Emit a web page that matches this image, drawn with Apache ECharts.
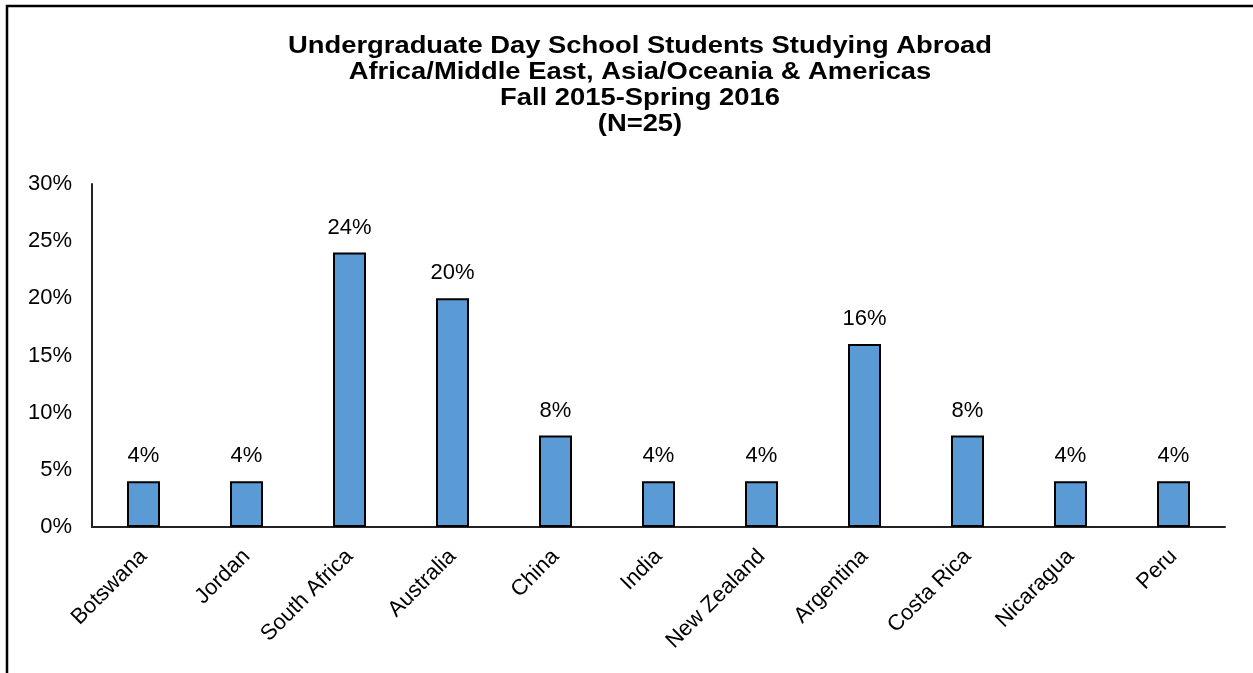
<!DOCTYPE html>
<html><head><meta charset="utf-8">
<script src="https://cdn.jsdelivr.net/npm/echarts@6/dist/echarts.min.js"></script>
<style>html,body{margin:0;padding:0;background:#fff}#c{width:1253px;height:673px}</style>
</head><body><div id="c"></div>
<script>
const categories = ['Botswana','Jordan','South Africa','Australia','China','India','New Zealand','Argentina','Costa Rica','Nicaragua','Peru'];
const values = [4,4,24,20,8,4,4,16,8,4,4];
const yTicks = {min:0, max:30, interval:5};
const titleLines = ['Undergraduate Day School Students Studying Abroad','Africa/Middle East, Asia/Oceania & Americas','Fall 2015-Spring 2016','(N=25)'];

const FONT = 'Liberation Sans, Arial, sans-serif';
const chart = echarts.init(document.getElementById('c'), null, {renderer:'canvas'});
chart.setOption({
  animation:false,
  backgroundColor:'#fff',
  graphic:[
    {type:'rect', shape:{x:7,y:6,width:1400,height:800}, style:{fill:'none', stroke:'#000', lineWidth:2.5}, silent:true, z:100},
    {type:'text', x:640, y:34, originX:0, originY:0, scaleX:1.19, silent:true,
     style:{text:titleLines.join('\n'), font:'bold 23px ' + FONT, fill:'#000', align:'center', verticalAlign:'top', lineHeight:26}}
  ],
  grid:{left:92, right:28, top:184, bottom:146},
  xAxis:{
    type:'category', data:categories,
    axisLine:{lineStyle:{color:'#222', width:2}},
    axisTick:{show:false},
    axisLabel:{rotate:45, color:'#000', fontFamily:FONT, fontSize:22, margin:26, interval:0}
  },
  yAxis:{
    type:'value', min:yTicks.min, max:yTicks.max, interval:yTicks.interval,
    axisLine:{show:true, lineStyle:{color:'#222', width:2}},
    axisTick:{show:false},
    splitLine:{show:false},
    axisLabel:{color:'#000', fontFamily:FONT, fontSize:22, margin:20, formatter:v=>v+'%'}
  },
  series:[{
    type:'bar', data:values, barWidth:33,
    itemStyle:{color:'#5B9BD5', borderColor:'#000', borderWidth:2},
    label:{show:true, position:'top', distance:14, color:'#000', fontFamily:FONT, fontSize:22, formatter:p=>p.value+'%'}
  }]
});
</script></body></html>
